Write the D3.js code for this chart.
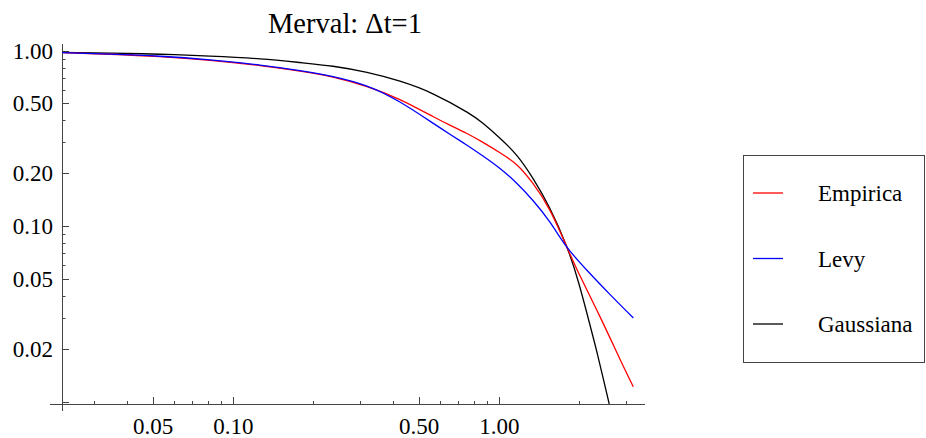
<!DOCTYPE html>
<html><head><meta charset="utf-8">
<script src="https://cdn.jsdelivr.net/npm/d3@7"></script>
<style>
html,body{margin:0;padding:0;background:#fff;}
</style></head>
<body><svg id="c" width="926" height="438"></svg>
<script>
// ---- data ----
const title = "Merval: \u0394t=1";
const seriesNames = ["Empirica", "Levy", "Gaussiana"];
const seriesColors = ["#ff0000", "#0000ff", "#000000"];

const xEmpirica = [0.0227,0.0344,0.053,0.0817,0.126,0.178,0.237,0.318,0.423,0.563,0.652,0.756,0.868,1.006,1.165,1.338,1.55,1.796,2.0,2.39,2.84,3.19];
const yEmpirica = [0.974,0.953,0.924,0.880,0.821,0.764,0.706,0.623,0.526,0.421,0.376,0.337,0.300,0.262,0.223,0.175,0.123,0.0759,0.0530,0.0305,0.0175,0.01215];

const xLevy = [0.0227,0.0344,0.053,0.0817,0.126,0.178,0.237,0.318,0.423,0.563,0.652,0.756,0.868,1.006,1.165,1.338,1.55,1.796,2.135,2.60,3.19];
const yLevy = [0.974,0.955,0.928,0.885,0.827,0.769,0.711,0.628,0.509,0.386,0.334,0.289,0.251,0.213,0.175,0.140,0.1054,0.0759,0.0561,0.0410,0.0300];

const xGauss = [0.0227,0.0344,0.053,0.0817,0.126,0.178,0.237,0.318,0.423,0.563,0.756,0.868,1.006,1.165,1.338,1.55,1.796,1.99,2.135,2.288,2.452,2.59];
const yGauss = [0.977,0.968,0.953,0.930,0.897,0.855,0.814,0.751,0.669,0.567,0.446,0.385,0.317,0.252,0.187,0.126,0.0759,0.0473,0.0319,0.0213,0.0138,0.0097];

const xMajor = [0.05, 0.1, 0.5, 1];
const xMajorLabels = ["0.05", "0.10", "0.50", "1.00"];
const xMinor = [0.03,0.04,0.06,0.07,0.08,0.09,0.2,0.3,0.4,0.6,0.7,0.8,0.9,2,3];
const yMajor = [1, 0.5, 0.2, 0.1, 0.05, 0.02, 0.01];
const yMajorLabels = ["1.00", "0.50", "0.20", "0.10", "0.05", "0.02", ""];
const yMinor = [0.9,0.8,0.7,0.6,0.4,0.3,0.09,0.08,0.07,0.06,0.04,0.03];

// ---- drawing ----
const FONT = "'Liberation Serif', 'Times New Roman', serif";
const svg = d3.select("#c");
const x = d3.scaleLog().domain([0.0227, 3.53]).range([62, 645]);
const y = d3.scaleLog().domain([0.0097, 1.09]).range([404, 44]);

svg.append("defs").append("clipPath").attr("id","pc")
  .append("rect").attr("x",62).attr("y",40).attr("width",600).attr("height",364);

const axisCol = "#444";
svg.append("line").attr("x1",50).attr("x2",645).attr("y1",404.5).attr("y2",404.5)
  .attr("stroke",axisCol).attr("stroke-width",1);
svg.append("line").attr("x1",62.5).attr("x2",62.5).attr("y1",44).attr("y2",411)
  .attr("stroke",axisCol).attr("stroke-width",1);

const xa = svg.append("g");
xa.selectAll(".xmaj").data(xMajor).join("line")
  .attr("x1",d=>Math.round(x(d))+0.5).attr("x2",d=>Math.round(x(d))+0.5)
  .attr("y1",404).attr("y2",397).attr("stroke",axisCol);
xa.selectAll(".xmin").data(xMinor).join("line")
  .attr("x1",d=>Math.round(x(d))+0.5).attr("x2",d=>Math.round(x(d))+0.5)
  .attr("y1",404).attr("y2",401).attr("stroke",axisCol);
xa.selectAll("text").data(xMajor).join("text")
  .attr("x",d=>x(d)).attr("y",434).attr("text-anchor","middle")
  .style("font-family",FONT).attr("font-size",23).text((d,i)=>xMajorLabels[i]);

const ya = svg.append("g");
ya.selectAll(".ymaj").data(yMajor).join("line")
  .attr("x1",62).attr("x2",69)
  .attr("y1",d=>Math.round(y(d))+0.5).attr("y2",d=>Math.round(y(d))+0.5).attr("stroke",axisCol);
ya.selectAll(".ymin").data(yMinor).join("line")
  .attr("x1",62).attr("x2",65.5)
  .attr("y1",d=>Math.round(y(d))+0.5).attr("y2",d=>Math.round(y(d))+0.5).attr("stroke",axisCol);
ya.selectAll("text").data(yMajor).join("text")
  .attr("x",53).attr("y",d=>y(d)+8).attr("text-anchor","end")
  .style("font-family",FONT).attr("font-size",23).text((d,i)=>yMajorLabels[i]);

const line = d3.line().x(d=>x(d[0])).y(d=>y(d[1])).curve(d3.curveNatural);
const allSeries = [
  d3.zip(xEmpirica, yEmpirica),
  d3.zip(xLevy, yLevy),
  d3.zip(xGauss, yGauss)
];
const plot = svg.append("g").attr("clip-path","url(#pc)");
[2,0,1].forEach(i=>{
  plot.append("path").attr("d", line(allSeries[i])).attr("fill","none")
    .attr("stroke", seriesColors[i]).attr("stroke-width",1.3);
});

svg.append("text").attr("x",345).attr("y",33).attr("text-anchor","middle")
  .style("font-family",FONT).attr("font-size",28.5).text(title);

const lg = svg.append("g");
lg.append("rect").attr("x",743.5).attr("y",155.5).attr("width",181).attr("height",207)
  .attr("fill","#fff").attr("stroke",axisCol).attr("stroke-width",1);
const ly = [193, 258.5, 324];
seriesNames.forEach((n,i)=>{
  lg.append("line").attr("x1",753).attr("x2",783).attr("y1",ly[i]).attr("y2",ly[i])
    .attr("stroke",seriesColors[i]).attr("stroke-width",1.3);
  lg.append("text").attr("x",818).attr("y",ly[i]+8)
    .style("font-family",FONT).attr("font-size",23).text(n);
});
</script></body></html>
